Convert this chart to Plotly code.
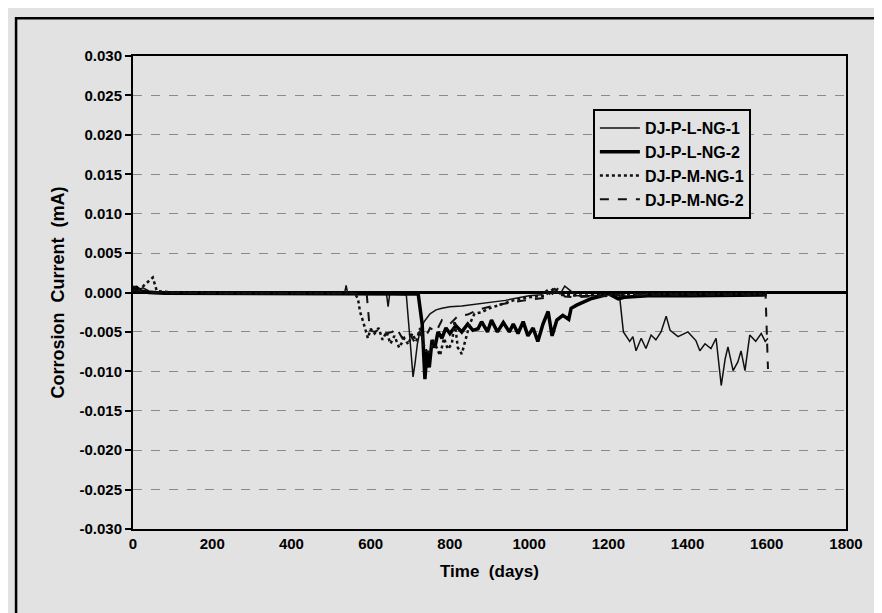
import plotly.graph_objects as go

# ---------------- data ----------------
l1_days = [0, 8, 15, 25, 40, 60, 80, 120, 200, 300, 400, 500, 534, 538, 542, 600, 640, 644, 648,
           690, 697, 702, 707, 712, 718, 725, 735, 750, 765, 780, 800, 830, 860, 900, 940, 980,
           1000, 1030, 1045, 1052, 1065, 1078, 1090, 1120, 1160, 1200, 1228, 1238, 1254, 1262,
           1270, 1283, 1295, 1308, 1320, 1333, 1346, 1356, 1376, 1401, 1421, 1431, 1444, 1459,
           1472, 1485, 1495, 1502, 1515, 1527, 1535, 1545, 1557, 1572, 1586, 1596, 1603]
l1_vals = [0.0006, 0.0008, 0.0004, 0.0006, 0.0002, 0.0001, 0.0, -0.0001, -0.0001, -0.0001, -0.0001,
           -0.0001, -0.0001, 0.0009, -0.0001, -0.0002, -0.0002, -0.0018, -0.0002,
           -0.0003, -0.0045, -0.0085, -0.0107, -0.0090, -0.0065, -0.0048, -0.0037, -0.0027, -0.0022,
           -0.0020, -0.0018, -0.0017, -0.0015, -0.0012, -0.0010, -0.0006,
           -0.0004, -0.0003, 0.0003, -0.0002, 0.0005, -0.0002, 0.0008, -0.0004, -0.0004, -0.0003,
           -0.0003, -0.0050, -0.0062, -0.0056,
           -0.0074, -0.0058, -0.0071, -0.0054, -0.0060, -0.0050, -0.0030, -0.0048, -0.0056, -0.0050,
           -0.0061, -0.0074, -0.0065, -0.0071,
           -0.0058, -0.0118, -0.0084, -0.0069, -0.0099, -0.0088, -0.0074, -0.0099, -0.0054, -0.0062,
           -0.0052, -0.0062, -0.0058]

l2_days = [0, 10, 20, 40, 80, 200, 400, 600, 720, 730, 737, 742, 748, 755, 762, 770, 780, 790,
           800, 815, 830, 845, 858, 871, 880, 895, 905, 920, 935, 950, 960, 972, 985, 997, 1010,
           1022, 1035, 1048, 1058, 1070, 1085, 1100, 1106, 1120, 1138, 1155, 1180, 1199, 1210,
           1225, 1240, 1300, 1400, 1500, 1600]
l2_vals = [0.0004, 0.0006, 0.0002, 0.0, -0.0001, -0.0001, -0.0002, -0.0002, -0.0002, -0.0040,
           -0.0110, -0.0075, -0.0095, -0.0060, -0.0070, -0.0050, -0.0058, -0.0045,
           -0.0052, -0.0042, -0.0050, -0.0040, -0.0048, -0.0046, -0.0037, -0.0050, -0.0035,
           -0.0050, -0.0038, -0.0050, -0.0040, -0.0052, -0.0037, -0.0055, -0.0045,
           -0.0062, -0.0040, -0.0024, -0.0055, -0.0035, -0.0029, -0.0034, -0.0020, -0.0016,
           -0.0012, -0.0008, -0.0005, -0.0001, -0.0004,
           -0.0008, -0.0006, -0.0004, -0.0004, -0.0004, -0.0003]

m1_days = [0, 15, 30, 50, 60, 100, 300, 560, 568, 573, 581, 588, 593, 600, 610, 620, 630, 640,
           650, 660, 672, 685, 695, 705, 715, 725, 735, 745, 760, 775, 785, 795, 805, 812, 820,
           830, 840, 850, 862, 880, 900, 930, 960, 1000, 1040, 1060, 1080, 1120, 1200, 1300,
           1400, 1600]
m1_vals = [0.0008, 0.0003, 0.0010, 0.0019, 0.0002, 0.0, -0.0001, -0.0001, -0.0008, -0.0024,
           -0.0037, -0.0048, -0.0058, -0.0046, -0.0052, -0.0045, -0.0060, -0.0050,
           -0.0065, -0.0055, -0.0070, -0.0058, -0.0066, -0.0052, -0.0062, -0.0045, -0.0068,
           -0.0078, -0.0062, -0.0080, -0.0058, -0.0072, -0.0065, -0.0036, -0.0070,
           -0.0078, -0.0060, -0.0040, -0.0027, -0.0025, -0.0020, -0.0015, -0.0010, -0.0006,
           -0.0004, 0.0004, -0.0003, -0.0004, -0.0003, -0.0002, -0.0002, -0.0002]

m2_days = [0, 50, 200, 550, 590, 598, 610, 625, 640, 655, 665, 680, 695, 710, 722, 735, 750,
           765, 780, 800, 820, 845, 870, 900, 930, 960, 990, 1020, 1050, 1075, 1090, 1120,
           1150, 1180, 1210, 1300, 1400, 1500, 1597, 1603]
m2_vals = [0.0003, 0.0, -0.0001, -0.0001, -0.0002, -0.0048, -0.0050, -0.0046, -0.0052, -0.0050,
           -0.0045, -0.0058, -0.0050, -0.0062, -0.0050, -0.0060, -0.0045,
           -0.0050, -0.0035, -0.0040, -0.0030, -0.0028, -0.0022, -0.0018, -0.0015, -0.0012,
           -0.0010, -0.0008, -0.0006, 0.0006, -0.0005, -0.0006,
           -0.0005, -0.0005, -0.0004, -0.0003, -0.0003, -0.0003, -0.0003, -0.0097]

series_names = ["DJ-P-L-NG-1", "DJ-P-L-NG-2", "DJ-P-M-NG-1", "DJ-P-M-NG-2"]

x_ticks = [0, 200, 400, 600, 800, 1000, 1200, 1400, 1600, 1800]
y_ticks = [0.030, 0.025, 0.020, 0.015, 0.010, 0.005, 0.000, -0.005, -0.010, -0.015, -0.020, -0.025, -0.030]
y_tick_labels = ["0.030", "0.025", "0.020", "0.015", "0.010", "0.005", "0.000",
                 "-0.005", "-0.010", "-0.015", "-0.020", "-0.025", "-0.030"]

# ---------------- figure ----------------
BG = "#e2e2e2"
FONT = "Liberation Sans, Arial, sans-serif"

fig = go.Figure()
styles = [
    dict(color="#111111", width=1.5, dash="solid"),
    dict(color="#000000", width=3.5, dash="solid"),
    dict(color="#111111", width=2.5, dash="dot"),
    dict(color="#111111", width=2, dash="dash"),
]
for name, xs, ys, st in zip(series_names,
                            [l1_days, l2_days, m1_days, m2_days],
                            [l1_vals, l2_vals, m1_vals, m2_vals],
                            styles):
    fig.add_trace(go.Scatter(x=xs, y=ys, mode="lines", name=name, line=st))

fig.update_layout(
    width=882, height=613,
    paper_bgcolor=BG, plot_bgcolor=BG,
    margin=dict(l=125, r=44, t=48, b=92),
    font=dict(family=FONT, color="black", size=15, weight="bold"),
    showlegend=True,
    legend=dict(
        x=0.645, y=0.888, xanchor="left", yanchor="top",
        bgcolor=BG, bordercolor="black", borderwidth=2,
        font=dict(family=FONT, size=16, color="black", weight="bold"),
        tracegroupgap=0, itemwidth=40,
    ),
    xaxis=dict(
        range=[0, 1800], tickvals=x_ticks, ticks="", showgrid=False, zeroline=False,
        showline=True, mirror=True, linecolor="black", linewidth=2,
        tickfont=dict(family=FONT, size=15, weight="bold"),
        title=dict(text="Time  (days)", font=dict(family=FONT, size=17, weight="bold"), standoff=14),
    ),
    yaxis=dict(
        range=[-0.030, 0.030], tickvals=y_ticks, ticktext=y_tick_labels,
        ticks="outside", ticklen=6, tickwidth=1.5, tickcolor="black",
        showgrid=True, gridcolor="#8a8a8a", griddash="dash", gridwidth=1,
        zeroline=True, zerolinecolor="black", zerolinewidth=2.5,
        showline=True, mirror=True, linecolor="black", linewidth=2,
        tickfont=dict(family=FONT, size=15, weight="bold"),
        title=dict(text="Corrosion  Current  (mA)", font=dict(family=FONT, size=18, weight="bold"), standoff=10),
    ),
    xaxis2=dict(
        overlaying="x", anchor="free", position=0.5, side="bottom", range=[0, 1800],
        tickvals=x_ticks, ticks="outside", ticklen=4, tickwidth=1.5, tickcolor="black",
        showticklabels=False, showgrid=False, zeroline=False, showline=False,
    ),
    xaxis3=dict(
        overlaying="x", anchor="free", position=0.5, side="top", range=[0, 1800],
        tickvals=x_ticks, ticks="outside", ticklen=4, tickwidth=1.5, tickcolor="black",
        showticklabels=False, showgrid=False, zeroline=False, showline=False,
    ),
)

# outer frame around the whole chart
fig.add_shape(type="rect", xref="paper", yref="paper",
              x0=-0.164, x1=1.052, y0=-0.2, y1=1.080,
              line=dict(color="black", width=2.5), fillcolor="rgba(0,0,0,0)", layer="below")

fig.write_html("out.html")
